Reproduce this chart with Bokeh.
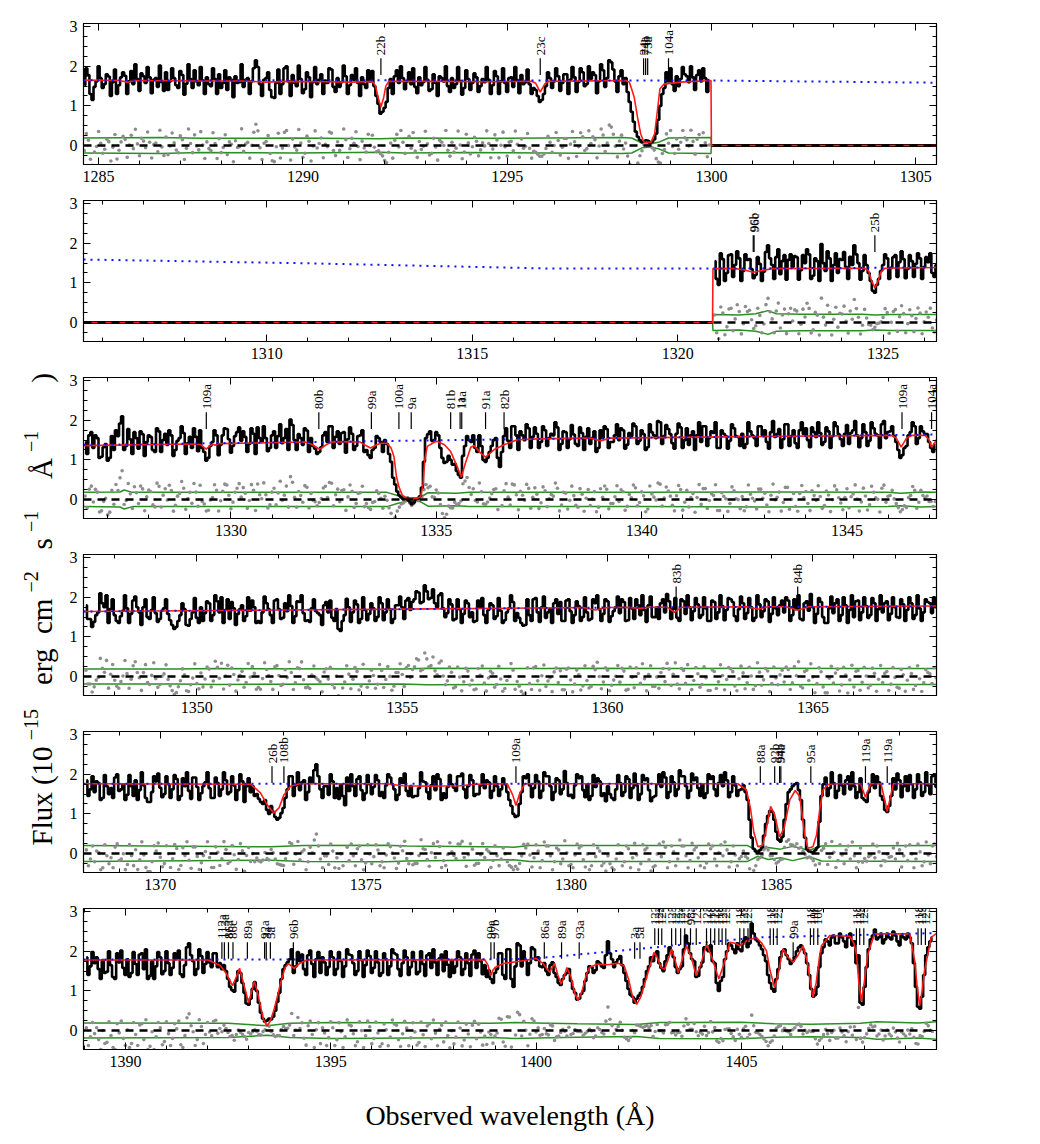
import numpy as np
from bokeh.plotting import figure
from bokeh.models import Range1d, LinearAxis, SingleIntervalTicker, Span
from bokeh.layouts import row, column
from bokeh.embed import file_html
from bokeh.resources import INLINE
from bokeh.core.properties import value

FONT = "Liberation Serif"

# ---------------- panel wavelength ranges ----------------
panel_lo = [1284.63, 1305.54, 1326.41, 1347.24, 1368.13, 1388.98]
panel_hi = [1305.51, 1326.30, 1347.18, 1368.01, 1388.90, 1409.75]

# detector gap (no flux)
gap_lo, gap_hi = 1300.0, 1320.85

# ---------------- observed flux: 0.05 A pixels, given as two interleaved sets ----------------
# "a" pixels at start + 0.1*i, "b" pixels at start + 0.05 + 0.1*i
start_1 = 1284.65
flux_1a = [1.52, 1.78, 1.15, 1.62, 1.70, 1.55, 1.74, 1.60, 1.30, 1.72,
           1.76, 1.62, 1.55, 1.68, 1.82, 1.58, 1.72, 1.66, 1.48, 1.60,
           1.85, 1.62, 1.70, 1.45, 1.78, 1.56, 1.68, 1.90, 1.52, 1.64,
           1.72, 1.50, 1.68, 1.80, 1.58, 1.40, 1.66, 1.75, 1.60, 1.48,
           1.70, 1.62, 2.15, 1.55, 1.66, 1.85, 1.22, 1.58, 1.30, 1.95,
           1.62, 1.78, 1.50, 1.68, 1.42, 1.72, 1.60, 1.55, 1.80, 1.64,
           1.95, 1.48, 1.70, 1.60, 1.75, 1.52, 1.66, 1.58, 1.72, 1.45,
           1.62, 1.50, 1.05, 0.85, 1.10, 1.68, 1.75, 1.58, 1.70, 1.62,
           1.55, 1.48, 1.72, 1.60, 1.66, 1.42, 1.58, 1.75, 1.62, 1.50,
           1.70, 1.55, 1.63, 1.45, 1.68, 1.58, 1.72, 1.50, 1.60, 1.66,
           1.52, 1.75, 1.62, 1.58, 1.70, 1.48, 1.65, 1.78, 1.60, 1.55,
           1.45, 1.25, 1.15, 1.50, 1.70, 1.62, 1.75, 1.58, 1.80, 1.66,
           1.72, 1.60, 1.85, 1.55, 1.68, 1.78, 1.62, 1.90, 1.70, 2.10,
           1.62, 1.75, 1.55, 1.35, 0.85, 0.35, 0.14, 0.10, 0.12, 0.09,
           0.30, 1.00, 1.45, 1.62, 1.55, 1.75, 1.68, 1.80, 1.60, 1.72,
           1.78, 1.62, 1.70, 1.65]
flux_1b = [1.95, 1.30, 1.48, 2.00, 1.45, 1.80, 1.25, 1.92, 1.52, 1.85,
           1.30, 1.88, 2.05, 1.38, 1.75, 1.98, 1.32, 1.70, 2.02, 1.38,
           1.40, 1.95, 1.52, 1.88, 1.28, 2.05, 1.45, 1.62, 1.98, 1.30,
           1.55, 1.95, 1.30, 1.45, 1.90, 1.72, 1.22, 1.58, 2.05, 1.66,
           1.30, 1.95, 1.98, 1.25, 1.70, 1.40, 1.20, 1.92, 1.55, 2.00,
           1.25, 1.58, 2.02, 1.32, 1.85, 1.22, 1.98, 1.66, 1.30, 1.58,
           1.92, 1.35, 1.48, 2.02, 1.30, 1.78, 1.95, 1.25, 1.55, 1.90,
           1.88, 1.25, 0.80, 0.95, 1.45, 1.30, 1.90, 2.00, 1.42, 1.85,
           1.95, 1.32, 1.52, 1.98, 1.38, 1.80, 1.25, 1.70, 2.00, 1.35,
           1.45, 1.98, 1.28, 1.90, 1.40, 1.82, 1.35, 1.68, 1.98, 1.30,
           1.88, 1.30, 1.95, 1.35, 1.72, 1.98, 1.32, 1.55, 1.92, 1.30,
           1.40, 1.10, 1.30, 1.85, 1.45, 1.95, 1.38, 1.80, 1.30, 1.98,
           1.35, 1.95, 1.50, 2.00, 1.85, 1.32, 2.05, 1.48, 2.15, 1.92,
           1.35, 1.90, 1.70, 1.10, 0.60, 0.22, 0.08, 0.13, 0.06, 0.15,
           0.65, 1.30, 1.85, 1.95, 1.38, 1.50, 1.98, 1.75, 2.00, 1.40,
           1.90, 1.95, 1.35]

start_2 = 1320.9
flux_2a = [1.55, 0.95, 1.60, 1.25, 1.72, 1.45, 1.62, 1.30, 1.58, 1.35,
           1.20, 1.48, 1.28, 1.95, 1.45, 1.65, 1.22, 1.70, 1.58, 1.40,
           1.65, 1.32, 1.50, 1.72, 1.18, 1.55, 1.98, 1.30, 1.62, 1.45,
           1.25, 1.58, 1.40, 1.66, 1.95, 1.50, 1.30, 1.45, 1.05, 0.75,
           1.10, 1.45, 1.62, 1.38, 1.70, 1.52, 1.60, 1.35, 1.55, 1.48,
           1.62, 1.40, 1.52, 1.25, 1.45]
flux_2b = [1.10, 1.75, 1.05, 1.70, 1.15, 1.80, 1.05, 1.72, 1.60, 1.12,
           1.65, 1.05, 1.78, 1.62, 1.10, 1.85, 1.55, 1.08, 1.72, 1.68,
           1.08, 1.70, 1.85, 1.10, 1.62, 1.05, 1.50, 1.80, 1.05, 1.75,
           1.60, 1.78, 1.10, 1.45, 1.72, 1.08, 1.70, 1.25, 0.80, 0.95,
           1.30, 1.72, 1.10, 1.65, 1.15, 1.80, 1.12, 1.70, 1.15, 1.75,
           1.10, 1.65, 1.75, 1.15]

start_3 = 1326.45
flux_3a = [1.45, 1.62, 1.30, 1.55, 1.08, 1.40, 1.05, 1.25, 1.60, 2.10,
           1.35, 1.52, 1.70, 1.28, 1.65, 1.45, 1.58, 1.20, 1.72, 1.50,
           1.38, 1.62, 1.25, 1.55, 1.68, 1.42, 1.30, 1.58, 1.75, 1.20,
           1.05, 1.45, 1.62, 1.38, 1.80, 1.52, 1.35, 1.70, 1.48, 1.58,
           1.40, 1.66, 1.82, 1.45, 1.55, 1.30, 1.72, 1.60, 1.42, 1.78,
           2.02, 1.50, 1.65, 1.38, 1.74, 1.55, 1.28, 1.20, 1.62, 1.45,
           1.85, 1.58, 1.40, 1.70, 1.52, 1.66, 1.35, 1.62, 1.20, 1.12,
           1.25, 1.60, 1.45, 1.50, 1.15, 0.55, 0.20, 0.05, 0.02, -0.05,
           -0.08, 0.02, 0.30, 1.55, 1.72, 1.50, 1.62, 1.05, 0.95, 1.00,
           0.90, 0.62, 1.10, 1.60, 1.45, 1.30, 1.62, 1.00, 1.05, 1.35,
           1.55, 0.82, 1.60, 1.48, 1.85, 1.62, 1.72, 1.50, 1.80, 1.58,
           1.66, 1.45, 1.75, 1.55, 1.62, 1.82, 1.40, 1.70, 1.52, 1.64,
           1.35, 1.68, 1.58, 1.40, 1.72, 1.30, 1.55, 1.78, 1.45, 1.62,
           1.50, 1.75, 1.38, 1.60, 1.85, 1.48, 1.65, 1.32, 1.70, 1.55,
           1.95, 1.60, 1.78, 1.42, 1.66, 1.82, 1.50, 1.38, 1.72, 1.62,
           1.45, 1.85, 1.55, 1.68, 1.30, 1.75, 1.60, 1.48, 1.80, 1.58,
           1.66, 1.40, 1.72, 1.55, 1.85, 1.62, 1.45, 1.70, 1.58, 1.78,
           1.52, 1.90, 1.60, 1.42, 1.75, 1.65, 1.50, 1.82, 1.58, 1.68,
           1.45, 1.72, 1.60, 1.85, 1.52, 1.66, 1.40, 1.75, 1.62, 1.55,
           1.70, 1.48, 1.80, 1.62, 1.90, 1.55, 1.72, 1.60, 1.25, 1.12,
           1.35, 1.70, 1.85, 1.55, 1.72, 1.65, 1.30, 1.40]
flux_3b = [1.15, 1.70, 1.62, 1.05, 1.32, 0.98, 1.60, 1.75, 1.92, 1.25,
           1.78, 1.15, 1.55, 1.72, 1.10, 1.62, 1.25, 1.80, 1.20, 1.66,
           1.75, 1.10, 1.48, 1.85, 1.15, 1.58, 1.80, 1.22, 1.30, 0.98,
           1.35, 1.75, 1.12, 1.62, 1.78, 1.18, 1.60, 1.82, 1.72, 1.20,
           1.80, 1.15, 1.55, 1.85, 1.22, 1.62, 1.30, 1.90, 1.55, 1.25,
           1.88, 1.25, 1.55, 1.80, 1.20, 1.35, 1.15, 1.32, 1.70, 1.85,
           1.30, 1.72, 1.68, 1.18, 1.82, 1.25, 1.60, 1.75, 1.25, 1.05,
           1.30, 1.55, 1.20, 1.40, 0.95, 0.38, 0.10, 0.00, 0.04, -0.12,
           0.00, 0.08, 0.95, 1.65, 1.48, 1.70, 1.30, 0.92, 1.10, 0.88,
           0.72, 0.55, 1.35, 1.50, 1.62, 1.20, 1.35, 0.95, 1.20, 1.50,
           1.05, 1.20, 1.80, 1.30, 1.85, 1.25, 1.62, 1.90, 1.30, 1.82,
           1.30, 1.85, 1.35, 1.66, 1.95, 1.25, 1.72, 1.30, 1.88, 1.40,
           1.82, 1.25, 1.80, 1.55, 1.20, 1.75, 1.85, 1.30, 1.45, 1.90,
           1.80, 1.28, 1.68, 1.92, 1.40, 1.75, 1.25, 1.90, 1.62, 1.98,
           1.40, 1.88, 1.65, 1.28, 1.92, 1.30, 1.80, 1.62, 1.25, 1.95,
           1.85, 1.35, 1.72, 1.95, 1.30, 1.66, 1.28, 1.90, 1.60, 1.35,
           1.30, 1.95, 1.62, 1.35, 1.85, 1.75, 1.28, 1.98, 1.65, 1.30,
           1.90, 1.35, 1.75, 1.30, 1.95, 1.80, 1.32, 1.70, 1.95, 1.38,
           1.82, 1.30, 1.95, 1.65, 1.35, 1.88, 1.68, 1.98, 1.32, 1.90,
           1.35, 1.95, 1.66, 1.30, 1.98, 1.70, 1.85, 1.45, 1.05, 1.30,
           1.62, 1.95, 1.40, 1.85, 1.66, 1.45, 1.20]

start_4 = 1347.3
flux_4a = [1.80, 1.45, 1.38, 1.62, 1.85, 2.05, 1.70, 1.55, 1.35, 1.66,
           1.72, 1.58, 2.02, 1.62, 1.75, 1.50, 1.68, 1.60, 1.45, 1.72,
           1.58, 1.30, 1.25, 1.55, 1.70, 1.28, 1.62, 1.48, 1.75, 1.60,
           1.85, 1.55, 1.90, 2.00, 1.68, 1.45, 1.72, 1.58, 1.80, 1.52,
           1.66, 1.75, 1.40, 1.62, 1.85, 1.55, 1.92, 1.70, 1.48, 1.65,
           1.78, 1.52, 1.88, 1.60, 1.42, 1.72, 1.65, 1.55, 1.80, 1.62,
           1.48, 1.70, 1.15, 1.55, 1.75, 1.62, 1.82, 1.45, 1.68, 1.58,
           1.72, 1.50, 1.85, 1.62, 1.70, 1.45, 1.80, 1.75, 1.92, 1.68,
           1.95, 2.12, 1.88, 2.15, 1.98, 1.85, 2.05, 1.72, 1.60, 1.82,
           1.45, 1.70, 1.58, 1.85, 1.62, 1.40, 1.75, 1.55, 1.68, 1.80,
           1.52, 1.66, 1.42, 1.72, 1.88, 1.60, 1.35, 1.30, 1.55, 1.95,
           1.62, 1.75, 1.48, 1.70, 1.85, 1.58, 1.40, 1.92, 1.65, 1.55,
           1.78, 1.50, 1.62, 1.45, 1.85, 1.70, 1.58, 1.90, 1.52, 1.75,
           1.60, 1.88, 1.42, 1.72, 1.95, 1.55, 1.68, 1.80, 1.50, 1.74,
           1.85, 1.62, 1.90, 1.70, 1.48, 1.95, 1.58, 1.75, 1.65, 1.82,
           1.55, 1.72, 1.40, 1.88, 1.62, 1.78, 1.68, 1.95, 1.52, 1.70,
           1.85, 1.60, 1.75, 1.48, 1.82, 1.65, 1.90, 1.58, 1.72, 1.80,
           1.62, 1.92, 1.55, 1.70, 1.45, 1.85, 1.66, 1.75, 1.58, 1.88,
           1.35, 1.72, 1.60, 1.95, 1.55, 1.80, 1.68, 1.50, 1.92, 1.62,
           1.78, 1.55, 1.85, 1.70, 1.62, 1.90, 1.58, 1.75, 1.48, 1.82,
           1.68, 1.85, 1.55, 1.72, 1.62, 1.88, 1.60, 1.75]
flux_4b = [1.45, 1.25, 1.55, 2.10, 1.75, 1.35, 1.95, 1.40, 1.52, 2.05,
           1.35, 1.92, 1.75, 1.30, 1.95, 1.45, 2.00, 1.38, 1.66, 1.95,
           1.42, 1.20, 1.40, 1.85, 1.30, 1.45, 1.98, 1.35, 1.40, 1.90,
           1.40, 2.05, 1.62, 1.35, 1.95, 1.88, 1.30, 1.70, 1.40, 2.00,
           1.92, 1.35, 1.35, 2.02, 1.70, 1.35, 1.95, 1.45, 1.85, 2.05,
           1.35, 1.90, 2.05, 1.40, 1.38, 1.95, 1.60, 1.30, 1.88, 1.92,
           1.40, 1.20, 1.40, 1.96, 1.38, 1.92, 1.35, 2.00, 1.42, 1.85,
           1.40, 2.00, 1.42, 1.95, 1.35, 1.80, 2.02, 1.45, 1.98, 1.88,
           2.15, 1.85, 2.30, 1.95, 2.20, 1.75, 2.10, 1.50, 1.95, 1.42,
           1.95, 1.35, 1.92, 1.50, 1.38, 1.92, 1.98, 1.35, 1.85, 1.45,
           1.98, 1.35, 1.62, 2.05, 1.40, 1.48, 1.28, 1.95, 1.40, 1.98,
           1.38, 2.02, 1.62, 1.35, 1.95, 1.88, 1.40, 1.95, 1.35, 1.90,
           1.40, 2.00, 1.42, 1.95, 2.05, 1.40, 1.95, 1.38, 1.65, 2.02,
           1.95, 1.40, 1.98, 1.45, 1.80, 2.05, 1.38, 2.02, 1.50, 1.45,
           1.95, 2.08, 1.45, 1.98, 1.40, 1.90, 2.05, 1.42, 1.98, 1.48,
           2.00, 1.40, 1.92, 1.45, 2.05, 1.42, 1.98, 1.88, 1.40, 2.02,
           1.45, 1.98, 1.40, 2.05, 1.50, 1.95, 1.38, 2.00, 1.55, 1.92,
           2.00, 1.40, 1.95, 2.05, 1.42, 1.90, 2.08, 1.35, 1.98, 1.50,
           1.35, 2.02, 1.85, 1.40, 2.00, 1.35, 2.05, 1.90, 1.42, 2.00,
           1.48, 1.98, 1.40, 2.05, 1.85, 1.42, 2.00, 1.50, 1.95, 1.40,
           2.00, 1.45, 2.05, 1.40, 1.95, 1.85, 2.00]

start_5 = 1368.2
flux_5a = [1.85, 1.62, 1.55, 1.78, 1.40, 1.70, 1.65, 1.92, 1.58, 1.75,
           1.48, 1.70, 1.85, 1.60, 1.72, 1.30, 1.55, 1.82, 1.66, 1.50,
           1.75, 1.62, 1.88, 1.45, 1.70, 1.58, 1.92, 1.68, 1.52, 1.80,
           1.65, 1.40, 1.78, 1.62, 1.85, 1.55, 1.72, 1.60, 1.82, 1.70,
           1.55, 1.45, 1.38, 1.25, 1.10, 1.20, 0.92, 0.90, 1.15, 1.62,
           1.95, 1.72, 1.60, 1.85, 1.55, 1.78, 2.25, 1.62, 1.70, 1.48,
           1.82, 1.65, 1.75, 1.22, 1.58, 1.70, 1.88, 1.60, 1.52, 1.75,
           1.68, 1.85, 1.55, 1.72, 1.92, 1.62, 1.48, 1.78, 1.58, 1.70,
           1.45, 1.65, 1.82, 1.55, 1.72, 1.60, 1.88, 1.52, 1.68, 1.75,
           1.58, 1.95, 1.62, 1.70, 1.85, 1.50, 1.72, 1.65, 1.80, 1.58,
           1.70, 1.62, 1.75, 1.35, 1.00, 0.95, 1.55, 1.90, 1.72, 1.65,
           1.82, 1.58, 1.95, 1.70, 1.55, 1.85, 1.62, 1.78, 1.48, 1.72,
           1.90, 1.60, 1.75, 1.45, 1.68, 1.82, 1.52, 1.70, 1.40, 1.62,
           1.78, 1.55, 1.88, 1.65, 1.72, 1.50, 1.85, 1.60, 1.42, 1.75,
           1.68, 1.92, 1.55, 1.80, 1.62, 1.95, 1.70, 1.58, 1.85, 1.65,
           1.75, 1.52, 1.88, 1.62, 1.78, 1.70, 1.85, 1.55, 1.72, 1.60,
           1.72, 1.35, 0.40, 0.05, 0.08, 0.45, 0.95, 1.05, 0.55, 0.30,
           0.85, 1.55, 1.70, 1.78, 1.35, 0.40, 0.05, 0.02, 0.15, 1.45,
           1.92, 1.65, 1.78, 1.58, 1.72, 1.85, 1.62, 1.70, 1.55, 1.40,
           1.30, 1.72, 1.65, 1.80, 1.35, 1.05, 1.45, 1.62, 1.85, 1.70,
           1.58, 1.75, 1.62, 1.80, 1.55, 1.72, 1.95, 1.68]
flux_5b = [1.45, 1.95, 1.82, 1.35, 1.98, 1.50, 1.40, 2.00, 1.62, 1.35,
           1.98, 1.45, 1.35, 2.05, 1.40, 1.30, 1.95, 2.02, 1.42, 1.95,
           1.40, 1.98, 1.35, 1.90, 2.05, 1.38, 1.92, 1.35, 1.70, 2.05,
           1.40, 1.92, 1.45, 2.05, 1.50, 1.95, 1.35, 2.00, 1.30, 1.90,
           1.70, 1.50, 1.30, 1.35, 1.00, 1.05, 0.85, 1.02, 1.40, 1.95,
           1.45, 2.05, 1.80, 1.35, 1.92, 2.10, 1.95, 1.40, 1.70, 2.00,
           1.40, 1.38, 1.45, 1.92, 2.00, 1.45, 1.95, 1.35, 1.98, 1.50,
           1.98, 1.45, 1.40, 2.00, 1.75, 1.35, 1.90, 2.02, 1.45, 1.42,
           1.45, 2.05, 1.80, 1.38, 1.95, 2.00, 1.35, 1.40, 1.98, 1.66,
           1.95, 2.02, 1.40, 1.98, 1.45, 1.50, 2.00, 1.85, 1.40, 1.95,
           1.45, 1.90, 1.55, 1.20, 0.92, 1.25, 1.95, 2.00, 1.42, 1.98,
           1.40, 2.05, 1.95, 1.35, 1.90, 1.50, 2.08, 1.45, 1.40, 2.00,
           1.95, 1.42, 1.35, 1.98, 1.90, 1.45, 1.32, 1.50, 1.35, 1.98,
           1.45, 1.95, 1.40, 2.02, 1.35, 1.98, 1.90, 1.32, 1.45, 2.00,
           2.05, 1.40, 1.95, 1.45, 2.10, 1.95, 1.40, 2.02, 1.92, 1.45,
           1.40, 2.00, 1.95, 1.45, 1.98, 2.05, 1.42, 1.95, 1.45, 1.62,
           1.55, 0.85, 0.12, 0.02, 0.15, 0.75, 1.08, 0.85, 0.35, 0.42,
           1.25, 1.62, 1.75, 1.60, 0.85, 0.10, 0.04, 0.08, 0.80, 1.75,
           1.45, 2.05, 1.40, 1.98, 1.50, 1.95, 2.05, 1.40, 1.90, 1.35,
           1.55, 2.00, 1.95, 1.45, 1.10, 1.20, 1.90, 2.02, 1.42, 1.95,
           1.98, 1.40, 2.00, 1.45, 2.05, 1.50, 2.00]

start_6 = 1389.05
flux_6a = [1.85, 1.62, 1.70, 1.55, 1.78, 1.48, 1.65, 1.30, 1.72, 1.58,
           1.80, 1.45, 1.68, 1.92, 1.55, 1.30, 1.75, 1.62, 1.85, 1.50,
           1.70, 1.58, 1.82, 1.42, 1.65, 2.20, 1.75, 1.55, 1.88, 1.68,
           1.72, 1.95, 1.60, 1.55, 1.50, 1.10, 0.98, 1.50, 1.20, 0.68,
           0.80, 1.22, 0.70, 0.30, 0.25, 0.28, 0.50, 0.95, 1.55, 1.72,
           2.05, 1.62, 1.75, 1.55, 1.90, 1.68, 1.80, 1.45, 1.72, 1.60,
           1.85, 1.55, 1.75, 1.62, 1.92, 1.70, 1.50, 1.78, 1.65, 1.88,
           1.58, 1.72, 1.45, 1.80, 1.62, 1.95, 1.55, 1.70, 1.85, 1.60,
           1.75, 1.48, 1.68, 1.90, 1.58, 1.72, 1.82, 1.50, 1.66, 1.78,
           1.62, 1.85, 1.55, 1.70, 1.92, 1.58, 1.75, 1.65, 1.52, 1.20,
           1.55, 1.95, 1.30, 2.05, 1.10, 2.20, 1.62, 1.78, 1.70, 2.05,
           1.85, 1.60, 1.50, 1.65, 1.45, 1.20, 1.30, 1.45, 1.25, 0.95,
           0.80, 1.00, 1.45, 1.60, 1.52, 1.70, 1.58, 2.25, 1.80, 1.72,
           1.88, 1.45, 1.05, 0.85, 0.80, 0.95, 1.30, 1.62, 1.75, 2.00,
           1.58, 1.75, 2.10, 1.85, 1.45, 1.62, 2.40, 1.95, 1.75, 1.38,
           1.72, 2.05, 2.15, 1.70, 1.00, 1.35, 2.00, 2.15, 1.95, 2.05,
           2.25, 2.10, 2.70, 2.30, 2.15, 1.90, 1.40, 1.05, 1.30, 1.85,
           2.05, 1.80, 1.75, 2.00, 2.15, 1.95, 1.40, 0.85, 1.10, 1.95,
           2.30, 2.15, 2.40, 2.20, 2.35, 2.10, 2.45, 2.25, 1.90, 0.65,
           1.60, 2.30, 2.55, 2.35, 2.20, 2.45, 2.30, 2.40, 2.15, 2.35,
           2.45, 2.20, 1.10, 0.55, 1.40, 2.10, 2.35]
flux_6b = [1.40, 1.98, 1.85, 1.30, 1.45, 2.00, 1.35, 1.95, 2.02, 1.40,
           1.35, 1.98, 1.40, 1.95, 2.05, 1.38, 1.30, 1.98, 1.42, 2.00,
           1.40, 1.95, 2.02, 1.35, 2.10, 1.90, 1.40, 2.05, 1.45, 1.98,
           1.60, 1.95, 1.70, 1.65, 1.30, 1.02, 1.25, 1.45, 0.95, 0.65,
           1.05, 1.00, 0.45, 0.22, 0.30, 0.35, 0.72, 1.30, 1.65, 1.80,
           1.45, 1.98, 1.92, 1.40, 2.02, 1.35, 1.98, 1.85, 1.40, 2.00,
           1.40, 1.98, 1.35, 2.05, 1.90, 1.40, 2.00, 1.35, 2.02, 1.45,
           2.00, 1.38, 1.95, 1.40, 2.05, 1.92, 1.38, 2.02, 1.40, 1.98,
           1.42, 2.00, 1.38, 1.95, 2.05, 1.40, 1.92, 2.00, 1.35, 1.45,
           2.00, 1.40, 1.95, 1.38, 2.02, 1.95, 1.42, 1.35, 1.30, 1.45,
           1.95, 1.40, 2.05, 1.30, 1.62, 2.15, 2.00, 1.40, 2.10, 1.78,
           1.62, 1.70, 1.40, 1.72, 1.35, 1.15, 1.40, 1.55, 1.05, 0.78,
           0.92, 1.25, 1.62, 1.45, 1.75, 1.62, 1.90, 1.95, 1.60, 1.80,
           1.65, 1.25, 0.90, 0.70, 0.88, 1.10, 1.50, 1.85, 1.90, 1.70,
           1.50, 1.90, 2.00, 1.60, 1.55, 2.05, 2.20, 1.80, 1.35, 1.60,
           2.10, 2.00, 1.75, 1.20, 1.25, 1.80, 2.20, 2.05, 2.20, 2.00,
           2.35, 2.20, 2.45, 2.25, 2.05, 1.75, 1.20, 0.98, 1.55, 2.00,
           1.90, 1.68, 1.85, 2.10, 2.05, 1.70, 1.05, 0.90, 1.60, 2.10,
           2.25, 2.35, 2.20, 2.45, 2.25, 2.35, 2.15, 1.70, 0.70, 1.10,
           2.05, 2.40, 2.30, 2.45, 2.30, 2.35, 2.50, 2.25, 2.40, 2.30,
           2.35, 1.70, 0.60, 0.85, 1.90, 2.25]

# ---------------- continuum (blue dotted) ----------------
cont_1 = [(1284.63, 1.65), (1300.0, 1.64), (1305.51, 1.585)]
cont_2 = [(1305.54, 1.59), (1311.2, 1.49), (1317.0, 1.36), (1321.0, 1.36), (1326.30, 1.39)]
cont_3 = [(1326.41, 1.38), (1332.0, 1.45), (1337.5, 1.53), (1340.0, 1.56), (1347.18, 1.64)]
cont_4 = [(1347.24, 1.64), (1355.0, 1.70), (1360.0, 1.74), (1368.01, 1.77)]
cont_5 = [(1368.13, 1.76), (1388.90, 1.76)]
cont_6 = [(1388.98, 1.79), (1399.5, 1.80), (1400.1, 1.83), (1402.5, 2.06), (1405.4, 2.35),
          (1407.4, 2.40), (1409.75, 2.46)]

# ---------------- absorption model (red) ----------------
model_1 = [(1284.63, 1.65), (1285.5, 1.64), (1285.7, 1.60), (1285.9, 1.64), (1287.5, 1.63),
           (1288.5, 1.63), (1289.1, 1.60), (1289.6, 1.62), (1290.5, 1.61), (1291.2, 1.60),
           (1291.7, 1.62), (1291.78, 1.50), (1291.84, 1.22), (1291.91, 0.97), (1291.98, 1.22),
           (1292.03, 1.50), (1292.1, 1.62), (1293.5, 1.62), (1294.5, 1.61), (1295.6, 1.62),
           (1295.7, 1.57), (1295.81, 1.35), (1295.92, 1.55), (1296.0, 1.62), (1297.9, 1.64),
           (1297.99, 1.60), (1298.05, 1.42), (1298.11, 1.22), (1298.19, 0.72), (1298.27, 0.29),
           (1298.35, 0.08), (1298.52, 0.08), (1298.61, 0.29), (1298.68, 0.89), (1298.74, 1.43),
           (1298.84, 1.55), (1299.25, 1.60), (1299.99, 1.64), (1300.0, 0.0), (1320.85, 0.0)]
model_2 = [(1300.0, 0.0), (1320.85, 0.0), (1320.86, 1.36), (1321.4, 1.36), (1321.6, 1.33),
           (1321.84, 1.27), (1322.1, 1.32), (1322.3, 1.36), (1324.55, 1.37), (1324.65, 1.30),
           (1324.72, 1.05), (1324.8, 0.87), (1324.88, 1.05), (1324.95, 1.28), (1325.05, 1.37),
           (1326.30, 1.39)]
model_3 = [(1326.41, 1.36), (1329.0, 1.40), (1329.25, 1.39), (1329.33, 1.33), (1329.4, 1.27),
           (1329.47, 1.34), (1329.55, 1.40), (1329.62, 1.37), (1329.7, 1.41), (1331.8, 1.45),
           (1331.95, 1.40), (1332.16, 1.27), (1332.35, 1.40), (1332.5, 1.46), (1333.15, 1.45),
           (1333.25, 1.38), (1333.4, 1.30), (1333.55, 1.38), (1333.65, 1.42), (1333.8, 1.42),
           (1333.9, 1.30), (1333.97, 1.08), (1334.03, 0.58), (1334.09, 0.32), (1334.17, 0.11),
           (1334.29, 0.03), (1334.54, 0.03), (1334.62, 0.07), (1334.68, 0.40), (1334.72, 1.00),
           (1334.78, 1.34), (1334.94, 1.44), (1335.02, 1.47), (1335.2, 1.38), (1335.35, 1.21),
           (1335.51, 0.83), (1335.61, 0.56), (1335.71, 0.92), (1335.84, 1.32), (1335.92, 1.36),
           (1336.08, 1.17), (1336.2, 1.07), (1336.41, 1.26), (1336.65, 1.38), (1336.97, 1.51),
           (1337.5, 1.53), (1338.75, 1.55), (1339.0, 1.48), (1339.25, 1.55), (1342.0, 1.58),
           (1346.1, 1.62), (1346.2, 1.55), (1346.32, 1.32), (1346.45, 1.55), (1346.6, 1.62),
           (1346.9, 1.62), (1347.0, 1.50), (1347.06, 1.32), (1347.15, 1.45), (1347.18, 1.52)]
model_4 = [(1347.24, 1.64), (1355.0, 1.70), (1359.4, 1.74), (1359.7, 1.68), (1360.0, 1.74),
           (1360.5, 1.745), (1360.8, 1.72), (1361.0, 1.75), (1361.45, 1.75), (1361.63, 1.62),
           (1361.8, 1.75), (1363.4, 1.76), (1363.66, 1.70), (1363.9, 1.76), (1364.35, 1.76),
           (1364.63, 1.67), (1364.9, 1.76), (1368.01, 1.78)]
model_5 = [(1368.13, 1.76), (1372.2, 1.75), (1372.44, 1.53), (1372.6, 1.23), (1372.76, 1.02),
           (1372.89, 1.15), (1373.01, 1.48), (1373.17, 1.70), (1373.4, 1.76), (1375.5, 1.76),
           (1375.9, 1.71), (1376.5, 1.70), (1377.3, 1.71), (1377.7, 1.75), (1378.45, 1.76),
           (1378.58, 1.48), (1378.66, 1.21), (1378.74, 1.48), (1378.87, 1.76), (1384.06, 1.76),
           (1384.27, 1.61), (1384.37, 1.14), (1384.45, 0.55), (1384.55, 0.17), (1384.67, 0.21),
           (1384.76, 0.64), (1384.86, 1.19), (1384.96, 0.98), (1385.08, 0.42), (1385.19, 0.64),
           (1385.33, 1.36), (1385.46, 1.59), (1385.57, 1.44), (1385.69, 0.47), (1385.77, 0.13),
           (1385.89, 0.17), (1385.98, 0.47), (1386.06, 1.14), (1386.14, 1.61), (1386.26, 1.74),
           (1386.5, 1.76), (1387.05, 1.76), (1387.17, 1.42), (1387.3, 1.76), (1387.55, 1.76),
           (1387.7, 1.06), (1387.85, 1.76), (1388.90, 1.76)]
model_6 = [(1388.98, 1.78), (1392.0, 1.78), (1392.3, 1.65), (1392.45, 1.45), (1392.61, 1.13),
           (1392.7, 1.35), (1392.78, 1.57), (1392.9, 1.10), (1393.0, 0.70), (1393.08, 1.00),
           (1393.14, 1.24), (1393.22, 0.95), (1393.28, 0.66), (1393.36, 0.28), (1393.45, 0.11),
           (1393.53, 0.24), (1393.61, 0.49), (1393.7, 0.85), (1393.77, 1.17), (1393.89, 1.59),
           (1393.97, 1.69), (1394.11, 1.57), (1394.25, 1.70), (1394.42, 1.78), (1398.75, 1.79),
           (1398.83, 1.65), (1398.89, 1.38), (1398.95, 1.52), (1399.0, 1.59), (1399.2, 1.69),
           (1399.6, 1.75), (1400.0, 1.82), (1400.18, 1.68), (1400.33, 1.47), (1400.45, 1.70),
           (1400.53, 1.40), (1400.61, 1.17), (1400.68, 1.35), (1400.75, 1.59), (1400.85, 1.35),
           (1400.94, 0.95), (1401.02, 0.75), (1401.12, 1.00), (1401.22, 1.40), (1401.3, 1.59),
           (1401.5, 1.68), (1401.75, 1.66), (1402.0, 1.70), (1402.15, 1.62), (1402.25, 1.30),
           (1402.35, 0.85), (1402.45, 0.66), (1402.55, 0.85), (1402.65, 1.20), (1402.75, 1.55),
           (1402.87, 1.97), (1402.95, 1.85), (1403.04, 1.59), (1403.13, 1.55), (1403.22, 1.80),
           (1403.3, 2.06), (1403.38, 1.80), (1403.46, 1.46), (1403.56, 1.80), (1403.66, 2.14),
           (1403.78, 1.85), (1403.9, 1.38), (1404.02, 1.70), (1404.15, 2.18), (1404.28, 1.85),
           (1404.45, 1.30), (1404.58, 1.70), (1404.72, 2.23), (1404.85, 2.20), (1404.96, 2.14),
           (1405.15, 2.28), (1405.36, 2.35), (1405.5, 2.20), (1405.61, 2.01), (1405.7, 1.50),
           (1405.81, 1.08), (1405.9, 1.45), (1406.01, 2.06), (1406.14, 1.85), (1406.26, 1.72),
           (1406.38, 1.90), (1406.5, 2.14), (1406.6, 1.75), (1406.68, 1.20), (1406.74, 0.83),
           (1406.82, 1.20), (1406.9, 1.85), (1406.95, 2.14), (1407.15, 2.40), (1407.64, 2.38),
           (1407.74, 2.20), (1407.8, 1.93), (1407.86, 1.20), (1407.92, 0.75), (1407.99, 1.20),
           (1408.08, 1.93), (1408.24, 2.44), (1409.1, 2.44), (1409.22, 1.76), (1409.28, 1.10),
           (1409.34, 0.62), (1409.4, 1.00), (1409.46, 1.51), (1409.62, 2.35), (1409.75, 2.45)]

# ---------------- 1-sigma error (green, +/-) ----------------
err_1 = [(1284.63, 0.19), (1286.5, 0.20), (1287.5, 0.18), (1289.8, 0.19), (1291.9, 0.17),
         (1292.5, 0.19), (1294.0, 0.18), (1297.8, 0.20), (1298.05, 0.19), (1298.3, 0.06),
         (1298.5, 0.04), (1298.7, 0.08), (1298.95, 0.19), (1299.99, 0.20), (1300.0, 0.0)]
err_2 = [(1320.85, 0.0), (1320.86, 0.20), (1321.5, 0.19), (1321.9, 0.22), (1322.2, 0.30),
         (1322.4, 0.22), (1323.0, 0.21), (1324.5, 0.21), (1324.8, 0.19), (1325.2, 0.20),
         (1326.30, 0.20)]
err_3 = [(1326.41, 0.18), (1327.3, 0.19), (1327.4, 0.24), (1327.6, 0.18), (1330.0, 0.18),
         (1333.8, 0.18), (1334.05, 0.10), (1334.3, 0.04), (1334.6, 0.05), (1334.8, 0.17),
         (1335.5, 0.16), (1335.8, 0.18), (1340.0, 0.18), (1343.0, 0.19), (1346.0, 0.18),
         (1346.3, 0.16), (1346.8, 0.19), (1347.18, 0.18)]
err_4 = [(1347.24, 0.19), (1349.5, 0.19), (1350.5, 0.20), (1355.0, 0.19), (1355.6, 0.21),
         (1358.5, 0.20), (1359.0, 0.21), (1362.0, 0.20), (1363.5, 0.21), (1366.0, 0.20),
         (1368.01, 0.20)]
err_5 = [(1368.13, 0.20), (1372.7, 0.17), (1373.5, 0.20), (1375.5, 0.21), (1376.0, 0.19),
         (1378.6, 0.16), (1379.0, 0.20), (1384.3, 0.20), (1384.55, 0.07), (1384.8, 0.15),
         (1385.1, 0.11), (1385.4, 0.18), (1385.8, 0.08), (1386.1, 0.19), (1388.90, 0.20)]
err_6 = [(1388.98, 0.19), (1392.5, 0.18), (1393.45, 0.12), (1394.0, 0.18), (1395.0, 0.20),
         (1398.9, 0.18), (1399.5, 0.20), (1400.0, 0.19), (1401.0, 0.17), (1402.45, 0.15),
         (1403.0, 0.20), (1405.0, 0.21), (1405.8, 0.17), (1406.7, 0.16), (1407.9, 0.18),
         (1408.3, 0.22), (1409.3, 0.19), (1409.75, 0.22)]

# ---------------- line identifications (text, wavelength, tick-top level) ----------------
ids_1 = [("22b", 1291.91, 2.2), ("23c", 1295.81, 2.2), ("24a", 1298.34, 2.2),
         ("74b", 1298.39, 2.2), ("73a", 1298.44, 2.2), ("104a", 1298.95, 2.2)]
ids_2 = [("96b", 1321.84, 2.2), ("96c", 1321.86, 2.2), ("25b", 1324.80, 2.2)]
ids_3 = [("109a", 1329.40, 2.2), ("80b", 1332.14, 2.2), ("99a", 1333.42, 2.2),
         ("100a", 1334.09, 2.2), ("9a", 1334.39, 2.2), ("81b", 1335.35, 2.2),
         ("1a", 1335.58, 2.2), ("11a", 1335.62, 2.2), ("91a", 1336.20, 2.2),
         ("82b", 1336.65, 2.2), ("109a", 1346.34, 2.2), ("104a", 1347.06, 2.2)]
ids_4 = [("83b", 1361.67, 2.27), ("84b", 1364.63, 2.27)]
ids_5 = [("26b", 1372.72, 2.2), ("108b", 1373.01, 2.2), ("109a", 1378.66, 2.2),
         ("88a", 1384.61, 2.2), ("92b", 1384.96, 2.2), ("94b", 1385.08, 2.2),
         ("94a", 1385.11, 2.2), ("95a", 1385.84, 2.2), ("119a", 1387.17, 2.2),
         ("119a", 1387.70, 2.2)]
ids_6 = [("112a", 1392.35, 2.23), ("113a", 1392.41, 2.23), ("86a", 1392.51, 2.23),
         ("86c", 1392.62, 2.23), ("89a", 1392.97, 2.23), ("92a", 1393.39, 2.23),
         ("3a", 1393.43, 2.23), ("5a", 1393.53, 2.23), ("96b", 1394.09, 2.23),
         ("90a", 1398.90, 2.23), ("97b", 1398.98, 2.23), ("86a", 1400.20, 2.23),
         ("89a", 1400.62, 2.23), ("93a", 1401.05, 2.23), ("3a", 1402.40, 2.23),
         ("5a", 1402.53, 2.23),
         ("122a", 1402.89, 2.58), ("123a", 1402.98, 2.58), ("124a", 1403.06, 2.58),
         ("125a", 1403.30, 2.58), ("123a", 1403.40, 2.58), ("124a", 1403.52, 2.58),
         ("125a", 1403.62, 2.58), ("98a", 1403.76, 2.58), ("123a", 1403.90, 2.58),
         ("125a", 1404.15, 2.58), ("118a", 1404.25, 2.58), ("123a", 1404.35, 2.58),
         ("118a", 1404.45, 2.58), ("123a", 1404.53, 2.58), ("125a", 1404.62, 2.58),
         ("118a", 1404.96, 2.58), ("123a", 1405.06, 2.58), ("125a", 1405.16, 2.58),
         ("118a", 1405.70, 2.58), ("123a", 1405.78, 2.58), ("125a", 1405.87, 2.58),
         ("99a", 1406.26, 2.23),
         ("118a", 1406.68, 2.58), ("108a", 1406.76, 2.58), ("100a", 1406.86, 2.58),
         ("118a", 1407.80, 2.58), ("123a", 1407.88, 2.58), ("125a", 1407.98, 2.58),
         ("118a", 1409.30, 2.58), ("123a", 1409.38, 2.58), ("125a", 1409.48, 2.58)]

# y-axis title pieces: (text, superscript?)
ylabel_parts = [("Flux (10", False), ("−15", True), ("erg", False), ("cm", False),
                ("−2", True), ("s", False), ("−1", True), ("Å", False), ("−1", True), (")", False)]

starts = [start_1, start_2, start_3, start_4, start_5, start_6]
fluxes_a = [flux_1a, flux_2a, flux_3a, flux_4a, flux_5a, flux_6a]
fluxes_b = [flux_1b, flux_2b, flux_3b, flux_4b, flux_5b, flux_6b]
conts = [cont_1, cont_2, cont_3, cont_4, cont_5, cont_6]
models = [model_1, model_2, model_3, model_4, model_5, model_6]
errs = [err_1, err_2, err_3, err_4, err_5, err_6]
idss = [ids_1, ids_2, ids_3, ids_4, ids_5, ids_6]
PIX = 0.1

FRAME_W, FRAME_H = 853, 141
LEFT_B, RIGHT_B = 23, 12
TOP_FIRST, TOP_B, BOT_B, BOT_LAST = 23, 8, 28, 92


def style_axis(ax, labels=True):
    ax.major_tick_in = 7
    ax.major_tick_out = 0
    ax.minor_tick_in = 4
    ax.minor_tick_out = 0
    ax.axis_line_color = "black"
    ax.major_tick_line_color = "black"
    ax.minor_tick_line_color = "black"
    ax.major_label_text_font = FONT
    if labels:
        ax.major_label_text_color = "black"
        ax.major_label_text_font_size = "16px"
        ax.major_label_standoff = 6
    else:
        ax.major_label_text_color = None
        ax.major_label_text_font_size = "0px"
        ax.major_label_standoff = 0


def make_panel(i, top_b, bot_b, last=False):
    lo, hi = panel_lo[i], panel_hi[i]
    p = figure(x_range=Range1d(lo, hi), y_range=Range1d(-0.48, 3.08),
               frame_width=FRAME_W, frame_height=FRAME_H,
               min_border_left=LEFT_B, min_border_right=RIGHT_B,
               min_border_top=top_b, min_border_bottom=bot_b,
               output_backend="svg", toolbar_location=None)
    p.grid.visible = False
    p.outline_line_color = "black"
    p.outline_line_width = 1.2
    p.background_fill_color = "white"
    p.border_fill_color = "white"

    bottom_ax = p.xaxis[0]
    left_ax = p.yaxis[0]
    bottom_ax.ticker = SingleIntervalTicker(interval=5, num_minor_ticks=5)
    left_ax.ticker = SingleIntervalTicker(interval=1, num_minor_ticks=4)
    style_axis(bottom_ax)
    style_axis(left_ax)
    top_ax = LinearAxis(ticker=SingleIntervalTicker(interval=5, num_minor_ticks=5))
    right_ax = LinearAxis(ticker=SingleIntervalTicker(interval=1, num_minor_ticks=4))
    style_axis(top_ax, labels=False)
    style_axis(right_ax, labels=False)
    p.add_layout(top_ax, "above")
    p.add_layout(right_ax, "right")

    if last:
        bottom_ax.axis_label = "Observed wavelength (Å)"
        bottom_ax.axis_label_text_font = FONT
        bottom_ax.axis_label_text_font_size = "28px"
        bottom_ax.axis_label_text_font_style = "normal"
        bottom_ax.axis_label_text_color = "black"
        bottom_ax.axis_label_standoff = 30

    fa = np.array(fluxes_a[i], dtype=float)
    fb = np.array(fluxes_b[i], dtype=float)
    xa = starts[i] + PIX * np.arange(len(fa))
    xb = starts[i] + PIX / 2 + PIX * np.arange(len(fb))
    wl = np.concatenate([xa, xb])
    flux = np.concatenate([fa, fb])
    order = np.argsort(wl)
    wl, flux = wl[order], flux[order]

    mx = np.array([a for a, b in models[i]])
    my = np.array([b for a, b in models[i]])
    cx = [a for a, b in conts[i]]
    cy = [b for a, b in conts[i]]
    ex = np.array([a for a, b in errs[i]])
    ev = np.array([b for a, b in errs[i]])
    resid = flux - np.interp(wl, mx, my)

    # error envelopes
    p.line(ex, ev, line_color="#2a8f22", line_width=1.5)
    p.line(ex, -ev, line_color="#2a8f22", line_width=1.5)
    # residuals
    p.scatter(wl, resid, size=3.6, fill_color="#8d8d8d", line_color=None)
    # detector gap: flux is zero there
    g0, g1 = max(gap_lo, lo), min(gap_hi, hi)
    if g1 > g0:
        p.line([g0, g1], [0.0, 0.0], line_color="black", line_width=2.8)
    # flux
    p.step(wl, flux, mode="center", line_color="black", line_width=2.6)
    # model
    p.line(mx, my, line_color="#ff1a1a", line_width=1.6)
    # zero level
    p.add_layout(Span(location=0, dimension="width", line_color="black",
                      line_width=2.4, line_dash="8 6"))
    # continuum
    p.line(cx, cy, line_color="#1010ff", line_width=2.0, line_dash="2 5")

    # line IDs
    ids = idss[i]
    txt = [t for t, w, l in ids]
    lw = [w for t, w, l in ids]
    lv = np.array([l for t, w, l in ids])
    p.segment(x0=lw, y0=lv - 0.42, x1=lw, y1=lv, line_color="black", line_width=1.2)
    p.text(x=lw, y=lv + 0.08, text=txt, angle=np.pi / 2, text_align="left",
           text_baseline="middle", text_font=value(FONT), text_font_size="13px",
           text_color="black")
    return p


panels = []
for i in range(6):
    top_b = TOP_FIRST if i == 0 else TOP_B
    bot_b = BOT_LAST if i == 5 else BOT_B
    panels.append(make_panel(i, top_b, bot_b, last=(i == 5)))

# ---------------- y-axis title (separate narrow column) ----------------
H = (TOP_FIRST + FRAME_H + BOT_B) + 4 * (TOP_B + FRAME_H + BOT_B) + (TOP_B + FRAME_H + BOT_LAST)
LW = 60
ylab = figure(width=LW, height=H, x_range=Range1d(0, LW), y_range=Range1d(0, H),
              min_border=0, x_axis_location=None, y_axis_location=None,
              output_backend="svg", toolbar_location=None)
ylab.grid.visible = False
ylab.outline_line_color = None

BASE, SUP = 29, 20          # font sizes (px)
EM_W = {"Flux (10": 3.42, "−15": 1.56, "erg": 1.28, "cm": 1.22, "−2": 1.06,
        "s": 0.39, "−1": 1.06, "Å": 0.72, ")": 0.33}
gap_after = [6, 24, 14, 6, 22, 6, 32, 6, 48]   # spacing between pieces (px)
pos = H - 845
xs, ys, ts, sz = [], [], [], []
for k, (t, sup) in enumerate(ylabel_parts):
    fs = SUP if sup else BASE
    xs.append(30 if sup else 41)
    ys.append(pos)
    ts.append(t)
    sz.append(f"{fs}px")
    pos += EM_W[t] * fs + (gap_after[k] if k < len(gap_after) else 0)
ylab.text(x=xs, y=ys, text=ts, angle=np.pi / 2, text_align="left",
          text_baseline="middle", text_font=value(FONT), text_font_size=sz,
          text_color="black")

layout = row(ylab, column(*panels))
open("out.html", "w").write(file_html(layout, INLINE))
